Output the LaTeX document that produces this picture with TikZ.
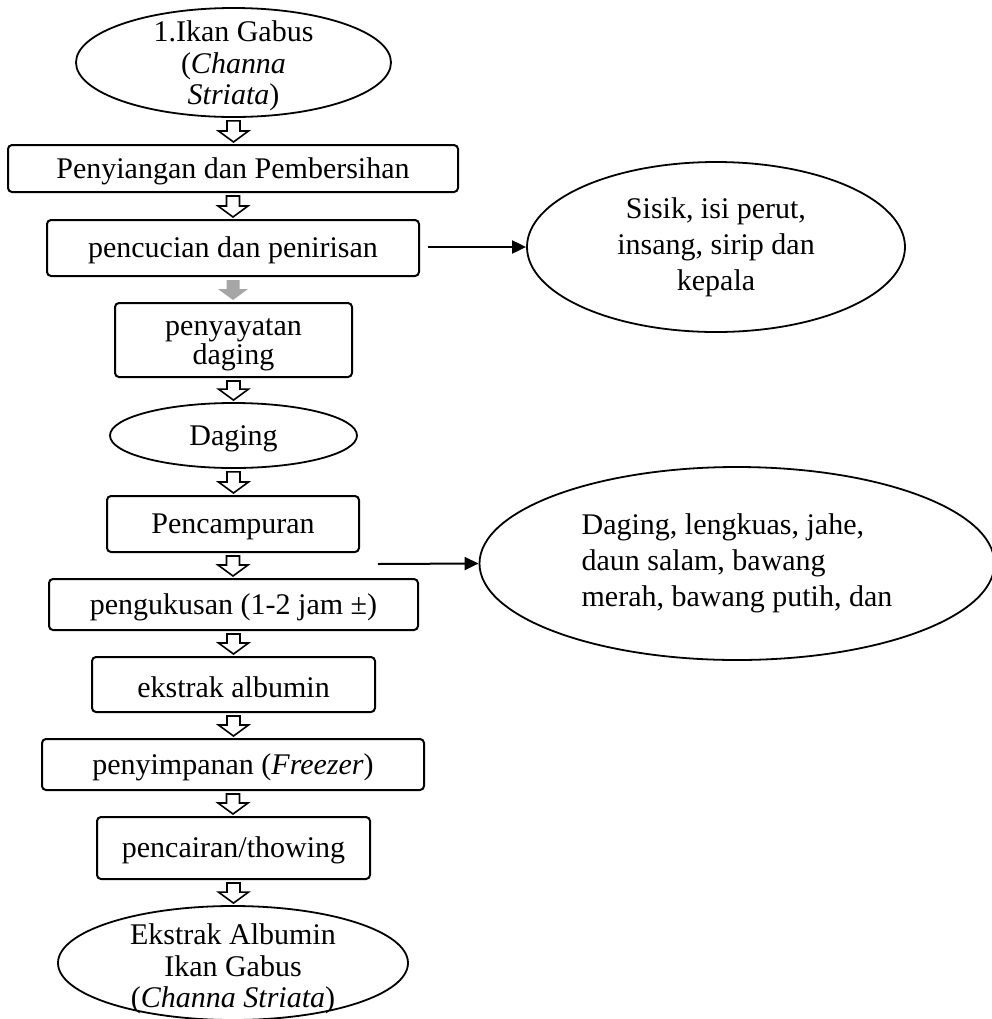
\documentclass[tikz,border=0pt]{standalone}
\usepackage{fontspec}
\setmainfont{Liberation Serif}
\usetikzlibrary{shapes.geometric,arrows.meta,calc}

\tikzset{
  topstrut/.style={execute at begin node={\rule{0pt}{#1}}},
  stepbox/.style={draw, line width=1pt, rounded corners=2pt, inner sep=0pt, align=center,
    font=\fontsize{15pt}{15.75pt}\selectfont, topstrut=13pt},
  stepoval/.style={draw, ellipse, line width=0.9pt, inner sep=0pt, align=center,
    font=\fontsize{15pt}{15.75pt}\selectfont, topstrut=13pt},
  sideoval/.style={draw, ellipse, line width=0.9pt, inner sep=0pt, align=center,
    font=\fontsize{15pt}{18pt}\selectfont},
  hollow/.style={draw, line width=0.8pt, fill=white, line join=miter},
  greyarrow/.style={fill=black!35},
  thinarrow/.style={line width=1pt, -{Triangle[length=7pt,width=6.5pt]}}
}
\newcommand{\flowarrow}[3][hollow]{%
  \path[#1] let \p1=($(#2.south)+(0,-1.5pt)$), \p2=($(#3.north)+(0,1pt)$) in
    (\x1-3.25pt,\y1) -- (\x1+3.25pt,\y1) -- (\x1+3.25pt,\y2+5.5pt) -- (\x1+7.5pt,\y2+5.5pt)
    -- (\x1,\y2) -- (\x1-7.5pt,\y2+5.5pt) -- (\x1-3.25pt,\y2+5.5pt) -- cycle;}

\begin{document}
\begin{tikzpicture}[x=0.5pt, y=-0.5pt]
\useasboundingbox (0,0) rectangle (992,1019);

\node[stepoval, inner ysep=-8pt, minimum width=157.5pt, minimum height=54.5pt] (fish) at (233.5,62.5) {\rule{0pt}{14pt}1.Ikan Gabus\\(\textit{Channa}\\\textit{Striata})};
\node[stepbox, minimum width=225pt, minimum height=23.5pt] (clean) at (233,168.5) {Penyiangan dan Pembersihan};
\node[stepbox, minimum width=186pt, minimum height=28pt] (wash) at (233,248) {pencucian dan penirisan};
\node[stepbox, font=\fontsize{15pt}{13.5pt}\selectfont, minimum width=118.5pt, minimum height=37pt] (slice) at (233.5,340) {\rule{0pt}{13pt}penyayatan\\daging};
\node[stepoval, minimum width=123.5pt, minimum height=32.5pt] (meat) at (233.5,435.5) {Daging};
\node[stepbox, minimum width=126pt, minimum height=28pt] (mix) at (233,524) {Pencampuran};
\node[stepbox, minimum width=184.5pt, minimum height=25.5pt] (steam) at (233.5,604.5) {pengukusan (1-2 jam ±)};
\node[stepbox, minimum width=141.5pt, minimum height=27.5pt] (extract) at (233.5,684.5) {ekstrak albumin};
\node[stepbox, minimum width=191pt, minimum height=25.5pt] (store) at (233,764.5) {penyimpanan (\textit{Freezer})};
\node[stepbox, minimum width=136.5pt, minimum height=31pt] (thaw) at (233.5,848) {pencairan/thowing};
\node[stepoval, inner ysep=-8pt, minimum width=175pt, minimum height=57pt] (product) at (233,963) {\rule{0pt}{16.5pt}Ekstrak Albumin\\Ikan Gabus\\(\textit{Channa Striata})};

\node[sideoval, minimum width=189pt, minimum height=85pt] (waste) at (716,247) {Sisik, isi perut,\\insang, sirip dan\\kepala};
\node[sideoval, align=left, minimum width=257.5pt, minimum height=96.5pt] (spice) at (737,563.5) {Daging, lengkuas, jahe,\\daun salam, bawang\\merah, bawang putih, dan};

\flowarrow{fish}{clean}
\flowarrow{clean}{wash}
\flowarrow[greyarrow]{wash}{slice}
\flowarrow{slice}{meat}
\flowarrow{meat}{mix}
\flowarrow{mix}{steam}
\flowarrow{steam}{extract}
\flowarrow{extract}{store}
\flowarrow{store}{thaw}
\flowarrow{thaw}{product}

\coordinate (mixout) at (378,564);
\draw[thinarrow] ([xshift=4pt]wash.east |- waste.west) -- (waste.west);
\draw[thinarrow] (mixout) -- (spice.west);
\end{tikzpicture}
\end{document}
